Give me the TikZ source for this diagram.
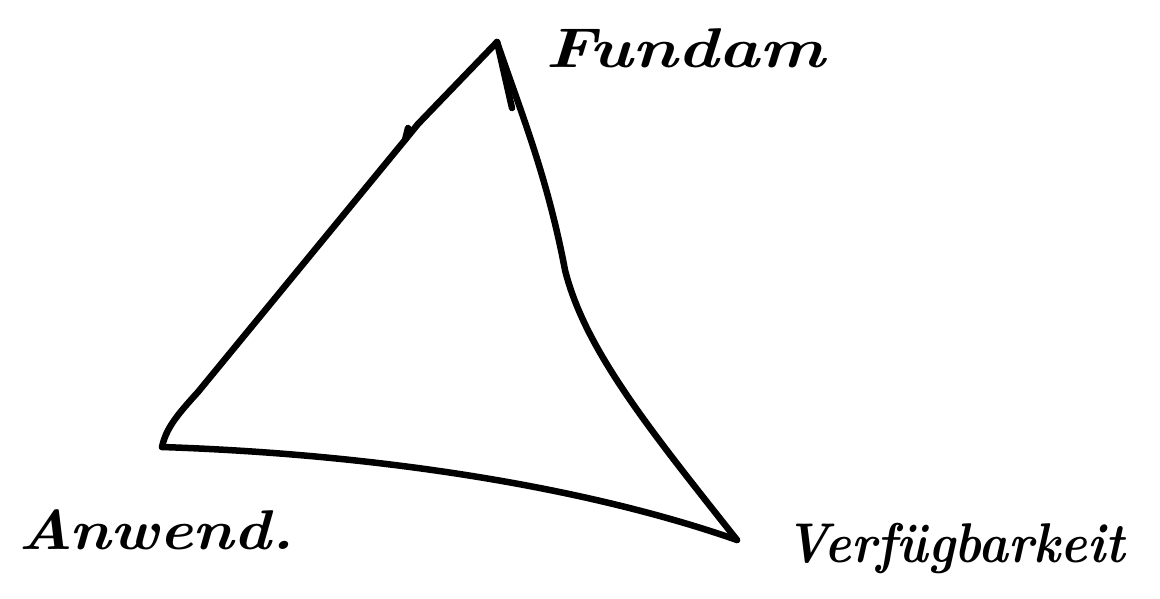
\documentclass[tikz,border=0pt]{standalone}
\begin{document}
\begin{tikzpicture}[x=1pt,y=-1pt,
  stroke/.style={line width=6.5pt,line cap=round,line join=round,black},
  hand/.style={font=\fontsize{56}{60}\selectfont\bfseries\itshape,inner sep=0pt,anchor=west}]
\useasboundingbox (0,0) rectangle (1160,598);
\coordinate (F) at (497,42);
\coordinate (A) at (162,447);
\coordinate (B) at (737,540);
\coordinate (L1) at (405,140);
\coordinate (L2) at (418,124);
\coordinate (R1) at (565,270);
% edges
\draw[stroke] (A) .. controls (166,428) and (178,414) .. (198,392) -- (L1) -- (L2) -- (F);
\draw[stroke] (L1) -- (408,128);
\draw[stroke] (F) .. controls (520,110) and (547,175) .. (R1) .. controls (585,350) and (650,430) .. (B);
\draw[stroke] (A) .. controls (400,455) and (600,492) .. (B);
\draw[stroke] (F) -- (512,108);
% labels
\node[hand] (fund) at (545,48) {\scalebox{1.24}[1]{Fundam}};
\node[hand] (anw) at (18,530) {\scalebox{1.13}[1]{Anwend.}};
\node[hand] (verf) at (785,548) {\scalebox{0.9}[1]{Verfügbarkeit}};
\end{tikzpicture}
\end{document}
